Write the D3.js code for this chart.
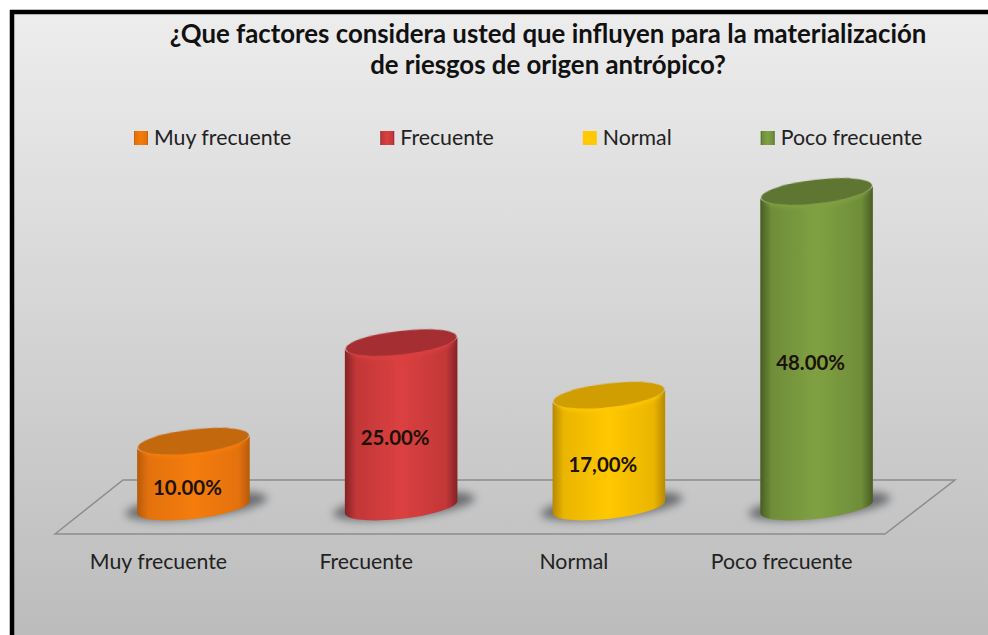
<!DOCTYPE html>
<html>
<head>
<meta charset="utf-8">
<script src="https://d3js.org/d3.v7.min.js"></script>
<style>
  html, body { margin: 0; padding: 0; background: #fff; }
  svg { display: block; }
  text { font-family: Lato, "Open Sans", sans-serif; fill: #222; }
</style>
</head>
<body>
<div id="chart"></div>
<script>
// data
const categorias = ["Muy frecuente", "Frecuente", "Normal", "Poco frecuente"]
const valores = [10, 25, 17, 48]
const etiquetas = ["10.00%", "25.00%", "17,00%", "48.00%"]
const titulo = ["¿Que factores considera usted que influyen para la materialización", "de riesgos de origen antrópico?"]

// colours: centre of the body, edge of the body, top cap
const coloresCentro = ["#f57c0c", "#dc4040", "#ffc800", "#80a142"]
const coloresBorde = ["#b85a06", "#842326", "#b88900", "#485d24"]
const coloresTapa = ["#c4670a", "#a52d30", "#d09e00", "#5e7631"]

const width = 988, height = 635

const svg = d3.select("#chart")
  .append("svg")
    .attr("width", width)
    .attr("height", height)

const defs = svg.append("defs")

// background gradient
const bg = defs.append("linearGradient")
    .attr("id", "fondo")
    .attr("x1", 0).attr("y1", 0).attr("x2", 0).attr("y2", 1)
bg.append("stop").attr("offset", "0%").attr("stop-color", "#ededed")
bg.append("stop").attr("offset", "100%").attr("stop-color", "#bcbcbc")

defs.append("filter")
    .attr("id", "sombra")
    .attr("x", "-30%").attr("y", "-60%").attr("width", "160%").attr("height", "220%")
  .append("feGaussianBlur")
    .attr("stdDeviation", 4)

defs.append("filter")
    .attr("id", "bisel")
    .attr("x", "-10%").attr("y", "-30%").attr("width", "120%").attr("height", "160%")
  .append("feGaussianBlur")
    .attr("stdDeviation", 2)

defs.append("filter")
    .attr("id", "suave")
    .attr("x", "-10%").attr("y", "-30%").attr("width", "120%").attr("height", "160%")
  .append("feGaussianBlur")
    .attr("stdDeviation", 0.7)

categorias.forEach((c, i) => {
  const g = defs.append("linearGradient")
      .attr("id", "cuerpo" + i)
      .attr("x1", 0).attr("y1", 0).attr("x2", 1).attr("y2", 0)
  g.append("stop").attr("offset", "0%").attr("stop-color", coloresBorde[i])
  g.append("stop").attr("offset", "10%").attr("stop-color", d3.interpolateRgb(coloresBorde[i], coloresCentro[i])(0.7))
  g.append("stop").attr("offset", "50%").attr("stop-color", coloresCentro[i])
  g.append("stop").attr("offset", "90%").attr("stop-color", d3.interpolateRgb(coloresBorde[i], coloresCentro[i])(0.7))
  g.append("stop").attr("offset", "100%").attr("stop-color", coloresBorde[i])
})

// panel and the black frame on the top and left
svg.append("rect")
    .attr("x", 10).attr("y", 10)
    .attr("width", width - 10).attr("height", height - 10)
    .attr("fill", "url(#fondo)")
svg.append("path")
    .attr("d", `M${width},12 H12 V${height}`)
    .attr("fill", "none")
    .attr("stroke", "#000")
    .attr("stroke-width", 4.5)

// title
svg.append("g")
  .selectAll("text")
  .data(titulo)
  .join("text")
    .attr("x", 548)
    .attr("y", (d, i) => 43 + i * 31)
    .attr("text-anchor", "middle")
    .style("font-size", "25.8px")
    .style("font-weight", "bold")
    .style("fill", "#111")
    .text(d => d)

// scales
const x = d3.scaleBand()
  .domain(categorias)
  .range([42, 968])
  .padding(0.458)

const y = d3.scaleLinear()
  .domain([0, 48])
  .range([507, 191.5])

const color = d3.scaleOrdinal()
  .domain(categorias)
  .range(coloresCentro)

// legend, laid out from the measured text widths
const legend = svg.append("g").attr("class", "legend")
let legendX = 134
categorias.forEach((c, i) => {
  legend.append("rect")
      .attr("x", legendX)
      .attr("y", 131)
      .attr("width", 14)
      .attr("height", 14)
      .attr("fill", i == 2 ? color(c) : `url(#cuerpo${i})`)
  const t = legend.append("text")
      .attr("x", legendX + 20)
      .attr("y", 145)
      .style("font-size", "21.3px")
      .text(c)
  legendX += 20 + t.node().getComputedTextLength() + 89
})

// floor of the plot
const floorTop = y(0) - 27, floorBottom = y(0) + 27
svg.append("path")
    .attr("d", `M55,${floorBottom} L123,${floorTop} H955 L885,${floorBottom} Z`)
    .attr("fill", "none")
    .attr("stroke", "#8c8c8c")
    .attr("stroke-width", 1.5)

// category axis, shifted left of the cylinders as in the original
const axis = svg.append("g")
    .attr("transform", "translate(-35,562)")
    .call(d3.axisBottom(x).tickSize(0).tickPadding(0))
axis.select(".domain").remove()
axis.selectAll("text")
    .attr("dy", "0.35em")
    .attr("y", 0)
    .style("font-family", "Lato, sans-serif")
    .style("font-size", "21.3px")

// cylinders
const rx = x.bandwidth() / 2, ry = 11.8, tilt = 6.5   // tilted ellipse
const dy = rx * Math.sin(tilt * Math.PI / 180)

const cyl = svg.append("g")
  .selectAll("g")
  .data(categorias)
  .join("g")
    .attr("transform", d => `translate(${x(d) + rx},0)`)

// ground shadow
cyl.append("ellipse")
    .attr("cx", 3)
    .attr("cy", y(0) - 1)
    .attr("rx", rx + 15)
    .attr("ry", 12)
    .attr("transform", `rotate(${-tilt} 3 ${y(0)})`)
    .attr("fill", "#606367")
    .attr("filter", "url(#sombra)")
    .attr("opacity", 0.9)

// body
cyl.append("path")
    .attr("d", (d, i) => {
      const top = y(valores[i])
      return `M${-rx},${top + dy} L${-rx},${y(0) + dy}`
        + ` A${rx},${ry} ${-tilt} 0 0 ${rx},${y(0) - dy}`
        + ` L${rx},${top - dy}`
        + ` A${rx},${ry} ${-tilt} 0 1 ${-rx},${top + dy} Z`
    })
    .attr("fill", (d, i) => `url(#cuerpo${i})`)
    .attr("filter", "url(#suave)")

// soft light rim under the cap, then the cap
cyl.append("ellipse")
    .attr("cy", (d, i) => y(valores[i]) + 3)
    .attr("rx", rx - 4)
    .attr("ry", ry)
    .attr("transform", (d, i) => `rotate(${-tilt} 0 ${y(valores[i])})`)
    .attr("fill", (d, i) => coloresCentro[i])
    .attr("filter", "url(#bisel)")
cyl.append("ellipse")
    .attr("cy", (d, i) => y(valores[i]))
    .attr("rx", rx - 0.5)
    .attr("ry", ry)
    .attr("transform", (d, i) => `rotate(${-tilt} 0 ${y(valores[i])})`)
    .attr("fill", (d, i) => coloresTapa[i])
    .attr("filter", "url(#suave)")

// value labels
cyl.append("text")
    .attr("x", -6)
    .attr("y", (d, i) => (y(valores[i]) + y(0)) / 2 + 13.5)
    .attr("dy", "0.35em")
    .attr("text-anchor", "middle")
    .style("font-size", "20.4px")
    .style("font-weight", "bold")
    .style("fill", "#1c1208")
    .text((d, i) => etiquetas[i])
</script>
</body>
</html>
